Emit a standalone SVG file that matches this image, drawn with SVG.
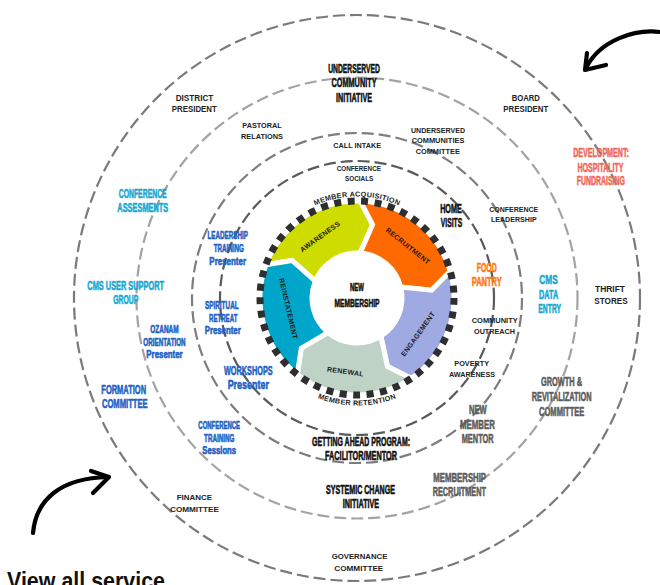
<svg xmlns="http://www.w3.org/2000/svg" width="660" height="585" viewBox="0 0 660 585">
<style>
.s{font-family:"Liberation Sans",Arial,sans-serif;font-weight:bold;fill:#222;text-anchor:middle}
.c{font-family:"Liberation Sans Narrow","Liberation Sans",Arial,sans-serif;font-weight:bold;text-anchor:middle;stroke-width:0.6;stroke-linejoin:round}
.k{fill:#111;stroke:#111}
.cy{fill:#17a8d2;stroke:#17a8d2}
.bl{fill:#1c62c4;stroke:#1c62c4}
.or{fill:#ff7a10;stroke:#ff7a10}
.sa{fill:#f0695a;stroke:#f0695a}
.gr{fill:#5c5c5c;stroke:#5c5c5c}
.w{font-family:"Liberation Sans",Arial,sans-serif;font-weight:bold;fill:#1a1a1a;font-size:7px;text-anchor:middle;dominant-baseline:central;letter-spacing:0.3px}
.seg{stroke:#fff;stroke-width:5;stroke-linejoin:miter}
.ring{fill:none;stroke-width:2.2;stroke-dasharray:12 5}
.arrow{fill:none;stroke:#000;stroke-width:4.2;stroke-linecap:round;stroke-linejoin:round}
</style>
<defs>
<path id="topArc" d="M 255.5,298 A 101.5 101.5 0 0 1 458.5,298"/>
<path id="botArc" d="M 249.5,298 A 107.5 107.5 0 0 0 464.5,298"/>
</defs>
<rect width="660" height="585" fill="#fff"/>

<g id="rings">
<circle class="ring" cx="357" cy="298" r="283" stroke="#7a7a7a"/>
<circle class="ring" cx="357" cy="298" r="220.5" stroke="#a3a3a3"/>
<circle class="ring" cx="357" cy="298" r="165" stroke="#7d7d7d"/>
<circle class="ring" cx="357" cy="298" r="137" stroke="#5a5a5a"/>
</g>

<g id="wheel">
<path id="seg-awareness" class="seg" fill="#cfdc00" d="M 265.85,264.82 A 97 97 0 0 1 360.39,201.06 L 372.59,224.64 L 360.14,253.11 A 45 45 0 0 0 315.28,281.14 L 292.05,260.5 Z"/>
<path id="seg-recruitment" class="seg" fill="#ff6a00" d="M 360.39,201.06 A 97 97 0 0 1 450.24,271.26 L 431.59,290.16 L 400.66,287.11 A 45 45 0 0 0 360.14,253.11 L 372.59,224.64 Z"/>
<path id="seg-engagement" class="seg" fill="#9fa9e2" d="M 450.24,271.26 A 97 97 0 0 1 411.24,378.42 L 387.5,366.52 L 380.85,336.16 A 45 45 0 0 0 400.66,287.11 L 431.59,290.16 Z"/>
<path id="seg-renewal" class="seg" fill="#bed3c6" d="M 411.24,378.42 A 97 97 0 0 1 297.28,374.44 L 301.26,348.18 L 328.07,332.47 A 45 45 0 0 0 380.85,336.16 L 387.5,366.52 Z"/>
<path id="seg-reinstatement" class="seg" fill="#00a6c9" d="M 297.28,374.44 A 97 97 0 0 1 265.85,264.82 L 292.05,260.5 L 315.28,281.14 A 45 45 0 0 0 328.07,332.47 L 301.26,348.18 Z"/>
<circle cx="357" cy="298" r="97" fill="none" stroke="#2e2e2e" stroke-width="7" stroke-dasharray="7 6.545"/>
<text class="w" transform="translate(320,236.5) rotate(-36)">AWARENESS</text>
<text class="w" transform="translate(408,246) rotate(38.5)">RECRUITMENT</text>
<text class="w" transform="translate(418,334) rotate(-54.5)">ENGAGEMENT</text>
<text class="w" transform="translate(345.5,371.5) rotate(8)">RENEWAL</text>
<text class="w" transform="translate(288.5,308.5) rotate(77)">REINSTATEMENT</text>
<text class="w" style="font-size:7.2px;dominant-baseline:auto"><textPath href="#topArc" startOffset="50%">MEMBER ACQUISITION</textPath></text>
<text class="w" style="font-size:7.2px;dominant-baseline:auto"><textPath href="#botArc" startOffset="50%">MEMBER RETENTION</textPath></text>
</g>

<g id="new-membership">
<text class="c k" font-size="11" x="357" y="291" textLength="14" lengthAdjust="spacingAndGlyphs">NEW</text>
<text class="c k" font-size="11" x="357" y="306.7" textLength="45" lengthAdjust="spacingAndGlyphs">MEMBERSHIP</text>
</g>

<g id="underserved-community-initiative">
<text class="c k" font-size="12.8" x="354" y="73.3" textLength="51.7" lengthAdjust="spacingAndGlyphs">UNDERSERVED</text>
<text class="c k" font-size="12.8" x="354" y="87.3" textLength="45" lengthAdjust="spacingAndGlyphs">COMMUNITY</text>
<text class="c k" font-size="12.8" x="354" y="101.7" textLength="36" lengthAdjust="spacingAndGlyphs">INITIATIVE</text>
</g>
<g id="district-president">
<text class="s" font-size="8.3" x="194.5" y="101" textLength="37.7" lengthAdjust="spacingAndGlyphs">DISTRICT</text>
<text class="s" font-size="8.3" x="194.3" y="112" textLength="45" lengthAdjust="spacingAndGlyphs">PRESIDENT</text>
</g>
<g id="board-president">
<text class="s" font-size="8.3" x="525.8" y="101" textLength="28.3" lengthAdjust="spacingAndGlyphs">BOARD</text>
<text class="s" font-size="8.3" x="525.8" y="112" textLength="45" lengthAdjust="spacingAndGlyphs">PRESIDENT</text>
</g>
<g id="pastoral-relations">
<text class="s" font-size="8" x="262" y="128" textLength="39.3" lengthAdjust="spacingAndGlyphs">PASTORAL</text>
<text class="s" font-size="8" x="262" y="139" textLength="42" lengthAdjust="spacingAndGlyphs">RELATIONS</text>
</g>
<g id="underserved-communities-committee">
<text class="s" font-size="7.6" x="438" y="132.7" textLength="54" lengthAdjust="spacingAndGlyphs">UNDERSERVED</text>
<text class="s" font-size="7.6" x="438" y="143.3" textLength="52.7" lengthAdjust="spacingAndGlyphs">COMMUNITIES</text>
<text class="s" font-size="7.6" x="437.8" y="154" textLength="44.3" lengthAdjust="spacingAndGlyphs">COMMITTEE</text>
</g>
<g id="call-intake">
<text class="s" font-size="7.6" x="357.2" y="148" textLength="47.7" lengthAdjust="spacingAndGlyphs">CALL INTAKE</text>
</g>
<g id="conference-socials">
<text class="s" font-size="7" x="358.8" y="170.7" textLength="44.3" lengthAdjust="spacingAndGlyphs">CONFERENCE</text>
<text class="s" font-size="7" x="359.2" y="180.7" textLength="28.3" lengthAdjust="spacingAndGlyphs">SOCIALS</text>
</g>
<g id="development">
<text class="c sa" font-size="12.6" x="601" y="157.3" textLength="55.7" lengthAdjust="spacingAndGlyphs">DEVELOPMENT:</text>
<text class="c sa" font-size="12.6" x="600.5" y="171.7" textLength="46" lengthAdjust="spacingAndGlyphs">HOSPITALITY</text>
<text class="c sa" font-size="12.6" x="600.8" y="185" textLength="48.3" lengthAdjust="spacingAndGlyphs">FUNDRAISING</text>
</g>
<g id="conference-assesments">
<text class="c cy" font-size="12.4" x="142.7" y="198.3" textLength="48" lengthAdjust="spacingAndGlyphs">CONFERENCE</text>
<text class="c cy" font-size="12.4" x="142.8" y="212.3" textLength="51" lengthAdjust="spacingAndGlyphs">ASSESMENTS</text>
</g>
<g id="home-visits">
<text class="c k" font-size="12.6" x="451" y="212.7" textLength="21.7" lengthAdjust="spacingAndGlyphs">HOME</text>
<text class="c k" font-size="12.6" x="451.5" y="226.7" textLength="21.3" lengthAdjust="spacingAndGlyphs">VISITS</text>
</g>
<g id="conference-leadership">
<text class="s" font-size="7.6" x="513.8" y="211.7" textLength="49" lengthAdjust="spacingAndGlyphs">CONFERENCE</text>
<text class="s" font-size="7.6" x="513.8" y="221.7" textLength="45.7" lengthAdjust="spacingAndGlyphs">LEADERSHIP</text>
</g>
<g id="leadership-training">
<text class="c bl" font-size="11.2" x="227.7" y="239.3" textLength="40.3" lengthAdjust="spacingAndGlyphs">LEADERSHIP</text>
<text class="c bl" font-size="11.2" x="228.8" y="252.3" textLength="30.3" lengthAdjust="spacingAndGlyphs">TRAINING</text>
<text class="c bl" font-size="11.2" x="227.7" y="265" textLength="36.7" lengthAdjust="spacingAndGlyphs">Presenter</text>
</g>
<g id="food-pantry">
<text class="c or" font-size="12.6" x="486.7" y="271.7" textLength="20" lengthAdjust="spacingAndGlyphs">FOOD</text>
<text class="c or" font-size="12.6" x="486.7" y="286" textLength="30" lengthAdjust="spacingAndGlyphs">PANTRY</text>
</g>
<g id="cms-data-entry">
<text class="c cy" font-size="12.6" x="548.5" y="284.3" textLength="18.3" lengthAdjust="spacingAndGlyphs">CMS</text>
<text class="c cy" font-size="12.6" x="548.7" y="299" textLength="19.3" lengthAdjust="spacingAndGlyphs">DATA</text>
<text class="c cy" font-size="12.6" x="549.7" y="313.3" textLength="22.7" lengthAdjust="spacingAndGlyphs">ENTRY</text>
</g>
<g id="thrift-stores">
<text class="s" font-size="9.8" x="610" y="291.7" textLength="30" lengthAdjust="spacingAndGlyphs">THRIFT</text>
<text class="s" font-size="9.8" x="611" y="304" textLength="33.3" lengthAdjust="spacingAndGlyphs">STORES</text>
</g>
<g id="cms-user-support-group">
<text class="c cy" font-size="12.6" x="125.7" y="290" textLength="76.7" lengthAdjust="spacingAndGlyphs">CMS USER SUPPORT</text>
<text class="c cy" font-size="12.6" x="125.8" y="304" textLength="25" lengthAdjust="spacingAndGlyphs">GROUP</text>
</g>
<g id="spiritual-retreat">
<text class="c bl" font-size="11.2" x="221.8" y="308.7" textLength="33.7" lengthAdjust="spacingAndGlyphs">SPIRITUAL</text>
<text class="c bl" font-size="11.2" x="223.2" y="321.7" textLength="28.3" lengthAdjust="spacingAndGlyphs">RETREAT</text>
<text class="c bl" font-size="11.2" x="222.7" y="334" textLength="36" lengthAdjust="spacingAndGlyphs">Presenter</text>
</g>
<g id="community-outreach">
<text class="s" font-size="7.6" x="494.7" y="323.3" textLength="46" lengthAdjust="spacingAndGlyphs">COMMUNITY</text>
<text class="s" font-size="7.6" x="494.5" y="334" textLength="41" lengthAdjust="spacingAndGlyphs">OUTREACH</text>
</g>
<g id="ozanam-orientation">
<text class="c bl" font-size="10.5" x="164.5" y="332.7" textLength="28.3" lengthAdjust="spacingAndGlyphs">OZANAM</text>
<text class="c bl" font-size="10.5" x="164.5" y="346" textLength="42.3" lengthAdjust="spacingAndGlyphs">ORIENTATION</text>
<text class="c bl" font-size="10.5" x="164.5" y="358.3" textLength="36.3" lengthAdjust="spacingAndGlyphs">Presenter</text>
</g>
<g id="poverty-awareness">
<text class="s" font-size="7.6" x="471.7" y="366" textLength="34.7" lengthAdjust="spacingAndGlyphs">POVERTY</text>
<text class="s" font-size="7.6" x="472" y="376.7" textLength="46" lengthAdjust="spacingAndGlyphs">AWARENESS</text>
</g>
<g id="workshops">
<text class="c bl" font-size="13.4" x="248.3" y="375" textLength="48.7" lengthAdjust="spacingAndGlyphs">WORKSHOPS</text>
<text class="c bl" font-size="13.4" x="248.3" y="389.3" textLength="41.3" lengthAdjust="spacingAndGlyphs">Presenter</text>
</g>
<g id="growth-revitalization-committee">
<text class="c gr" font-size="12.8" x="561.5" y="386.3" textLength="41" lengthAdjust="spacingAndGlyphs">GROWTH &amp;</text>
<text class="c gr" font-size="12.8" x="561.7" y="401" textLength="60" lengthAdjust="spacingAndGlyphs">REVITALIZATION</text>
<text class="c gr" font-size="12.8" x="561.7" y="415.7" textLength="45.3" lengthAdjust="spacingAndGlyphs">COMMITTEE</text>
</g>
<g id="formation-committee">
<text class="c bl" font-size="12.4" x="123.7" y="394.3" textLength="44.7" lengthAdjust="spacingAndGlyphs">FORMATION</text>
<text class="c bl" font-size="12.4" x="124.8" y="408.3" textLength="45.7" lengthAdjust="spacingAndGlyphs">COMMITTEE</text>
</g>
<g id="new-member-mentor">
<text class="c gr" font-size="12.8" x="477.8" y="414.3" textLength="17.7" lengthAdjust="spacingAndGlyphs">NEW</text>
<text class="c gr" font-size="12.8" x="477.5" y="429" textLength="35" lengthAdjust="spacingAndGlyphs">MEMBER</text>
<text class="c gr" font-size="12.8" x="477.7" y="443.3" textLength="32" lengthAdjust="spacingAndGlyphs">MENTOR</text>
</g>
<g id="conference-training">
<text class="c bl" font-size="10.5" x="219.2" y="428.7" textLength="41.7" lengthAdjust="spacingAndGlyphs">CONFERENCE</text>
<text class="c bl" font-size="10.5" x="219.2" y="442" textLength="30.3" lengthAdjust="spacingAndGlyphs">TRAINING</text>
<text class="c bl" font-size="10.5" x="219.2" y="454" textLength="33.7" lengthAdjust="spacingAndGlyphs">Sessions</text>
</g>
<g id="getting-ahead-program">
<text class="c k" font-size="12.4" x="361" y="445.7" textLength="98" lengthAdjust="spacingAndGlyphs">GETTING AHEAD PROGRAM:</text>
<text class="c k" font-size="12.4" x="361" y="460" textLength="72" lengthAdjust="spacingAndGlyphs">FACILITOR/MENTOR</text>
</g>
<g id="membership-recruitment">
<text class="c gr" font-size="12.4" x="459.7" y="481.7" textLength="52.7" lengthAdjust="spacingAndGlyphs">MEMBERSHIP</text>
<text class="c gr" font-size="12.4" x="459.3" y="496" textLength="53.3" lengthAdjust="spacingAndGlyphs">RECRUITMENT</text>
</g>
<g id="systemic-change-initiative">
<text class="c k" font-size="12.4" x="360.5" y="494" textLength="69" lengthAdjust="spacingAndGlyphs">SYSTEMIC CHANGE</text>
<text class="c k" font-size="12.4" x="361" y="508.3" textLength="36.3" lengthAdjust="spacingAndGlyphs">INITIATIVE</text>
</g>
<g id="finance-committee">
<text class="s" font-size="8" x="194.3" y="500" textLength="35.3" lengthAdjust="spacingAndGlyphs">FINANCE</text>
<text class="s" font-size="8" x="194.5" y="512" textLength="49" lengthAdjust="spacingAndGlyphs">COMMITTEE</text>
</g>
<g id="governance-committee">
<text class="s" font-size="8" x="359.5" y="559" textLength="55.7" lengthAdjust="spacingAndGlyphs">GOVERNANCE</text>
<text class="s" font-size="8" x="358.8" y="571" textLength="49" lengthAdjust="spacingAndGlyphs">COMMITTEE</text>
</g>

<g id="connectors">
<path class="arrow" d="M 660,32 C 635,29 600,40 586,68"/>
<path class="arrow" d="M 587,53 L 585,70 L 606,65"/>
<path class="arrow" d="M 33,533 C 36,500 60,478 108,477"/>
<path class="arrow" d="M 91,471 L 109,477 L 93,493"/>
</g>

<g id="view-all">
<text x="7" y="589" font-family="'Liberation Sans',Arial,sans-serif" font-weight="bold" font-size="24" fill="#111" textLength="158" lengthAdjust="spacingAndGlyphs">View all service</text>
</g>
</svg>
